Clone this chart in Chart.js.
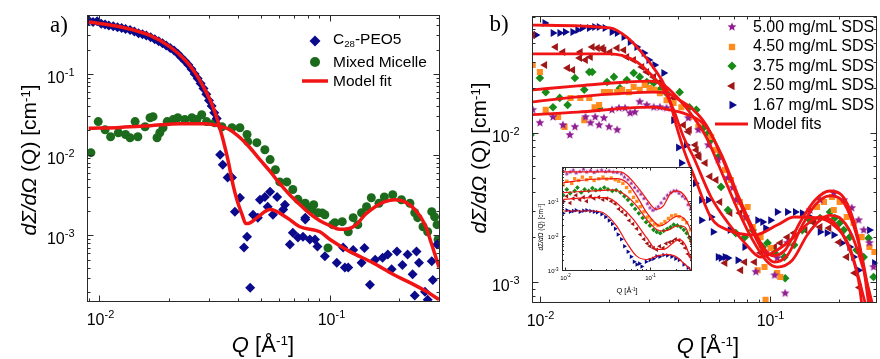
<!DOCTYPE html>
<html>
<head>
<meta charset="utf-8">
<script src="https://cdn.jsdelivr.net/npm/chart.js@4.4.1/dist/chart.umd.min.js"></script>
<style>
  html, body { margin: 0; padding: 0; background: #fff; overflow: hidden; }
  body { width: 880px; height: 359px; position: relative; font-family: "Liberation Sans", Arial, sans-serif; color: #000; }
  canvas { position: absolute; }
  .t { position: absolute; white-space: nowrap; line-height: 1; }
  .c { transform: translate(-50%, -50%); }
  .l { transform: translateY(-50%); }
  .rot { transform: translate(-50%, -50%) rotate(-90deg); }
  .serif { font-family: "Liberation Serif", "Times New Roman", serif; }
  sup { font-size: 0.62em; position: relative; top: -0.5em; vertical-align: baseline; }
  sub { font-size: 0.62em; position: relative; top: 0.3em; vertical-align: baseline; }
</style>
</head>
<body>
<canvas id="panelA" width="445" height="359" style="left:0;top:0"></canvas>
<canvas id="panelB" width="442" height="359" style="left:440px;top:0"></canvas>
<canvas id="inset" width="180" height="145" style="left:520px;top:160px"></canvas>

<div class="t c serif" style="left:59px;top:24px;font-size:23px">a)</div>
<div class="t c serif" style="left:499px;top:23px;font-size:23px">b)</div>
<div class="t rot" style="left:28px;top:160px;font-size:21px"><i>dΣ/dΩ</i> (Q) [cm<sup>-1</sup>]</div>
<div class="t rot" style="left:478px;top:158px;font-size:21px"><i>dΣ/dΩ</i> (Q) [cm<sup>-1</sup>]</div>
<div class="t c" style="left:263px;top:345px;font-size:22px"><i>Q</i> [Å<sup>-1</sup>]</div>
<div class="t c" style="left:708px;top:346px;font-size:22px"><i>Q</i> [Å<sup>-1</sup>]</div>
<div class="t rot" style="left:541px;top:227px;font-size:6.5px"><i>dΣ/dΩ</i> (Q) [cm<sup>-1</sup>]</div>
<div class="t c" style="left:627px;top:291px;font-size:7.5px">Q [Å<sup>-1</sup>]</div>
<div id="legendA"></div>
<div id="legendB"></div>

<script>
const fitColor = '#f01414';

// ---------- panel a ----------
const qRangeA = [0.00885, 0.2997];
const iRangeA = [0.0001496, 0.538];
const legendA = ['C<sub>28</sub>-PEO5', 'Mixed Micelle', 'Model fit'];

const c28PEO5 = [
  [0.0090,0.46],[0.0094,0.44],[0.0098,0.45],[0.0102,0.42],[0.0106,0.41],[0.011,0.40],[0.0115,0.39],
  [0.012,0.38],[0.0125,0.37],[0.013,0.36],[0.0136,0.35],[0.0142,0.335],[0.0148,0.32],[0.0154,0.31],
  [0.016,0.30],[0.0167,0.285],[0.0174,0.27],[0.0181,0.255],[0.0188,0.24],[0.0195,0.225],[0.0203,0.21],
  [0.0211,0.195],[0.0219,0.178],[0.0227,0.16],[0.0235,0.145],[0.0243,0.13],[0.0251,0.115],[0.0259,0.1],
  [0.0267,0.088],[0.0275,0.076],[0.0283,0.066],[0.0291,0.056],[0.0299,0.047],[0.0307,0.04],[0.0315,0.033],
  [0.0323,0.028],[0.0334,0.01],[0.0343,0.0075],[0.036,0.0052],[0.0376,0.0052],[0.0407,0.00293],
  [0.0387,0.00197],[0.0464,0.0018],[0.0437,0.00096],[0.0424,0.00071],[0.0451,0.000225],[0.0487,0.00166],
  [0.0497,0.00277],[0.0522,0.003],[0.055,0.00348],[0.0537,0.00227],[0.059,0.003],[0.0566,0.0018],
  [0.0638,0.0024],[0.0627,0.0021],[0.0781,0.00166],[0.069,0.00108],[0.0726,0.00094],[0.067,0.00077],
  [0.0764,0.00096],[0.0818,0.00089],[0.0882,0.00073],[0.095,0.00055],[0.107,0.00046],[0.116,0.0004],
  [0.114,0.00071],[0.0781,0.00157],[0.0861,0.00089],[0.12,0.0004],[0.126,0.00066],[0.141,0.0007],
  [0.137,0.00046],[0.149,0.000245],[0.157,0.0005],[0.169,0.00053],[0.178,0.00058],[0.195,0.00063],
  [0.185,0.00038],[0.206,0.00043],[0.217,0.00058],[0.237,0.00063],[0.228,0.00033],[0.233,0.00018],
  [0.258,0.0002],[0.265,0.00016],[0.243,0.00046],[0.279,0.00028],[0.276,0.00048],[0.291,0.00077]
];
const mixedMicelle = [
  [0.0092,0.0106],[0.0099,0.0257],[0.0106,0.0204],[0.0112,0.0167],[0.0121,0.0187],[0.013,0.0178],
  [0.0136,0.0162],[0.0143,0.0257],[0.0147,0.0167],[0.0158,0.0222],[0.0166,0.0287],[0.0171,0.0296],
  [0.0178,0.0162],[0.0183,0.0187],[0.0189,0.0216],[0.0197,0.0257],[0.0209,0.0272],[0.0219,0.0287],
  [0.0235,0.0272],[0.0252,0.0287],[0.0265,0.0272],[0.0278,0.0313],[0.0292,0.0257],[0.0317,0.0249],
  [0.034,0.0222],[0.0376,0.0216],[0.0407,0.0216],[0.0437,0.0178],[0.044,0.0145],[0.0482,0.0141],
  [0.0522,0.0115],[0.055,0.0087],[0.058,0.0065],[0.0606,0.0046],[0.065,0.0046],[0.069,0.0037],
  [0.0726,0.0028],[0.0781,0.0025],[0.0799,0.0022],[0.0833,0.00208],[0.085,0.0024],[0.0887,0.00191],
  [0.0925,0.0019],[0.095,0.0018],[0.098,0.0007],[0.1026,0.00136],[0.105,0.00144],[0.113,0.00148],
  [0.12,0.00111],[0.126,0.00166],[0.132,0.00136],[0.137,0.00191],[0.144,0.00227],[0.151,0.00293],
  [0.163,0.0025],[0.172,0.003],[0.187,0.00319],[0.204,0.00277],[0.222,0.0025],[0.233,0.00191],
  [0.24,0.00166],[0.253,0.00128],[0.265,0.00111],[0.276,0.00197],[0.284,0.0017],[0.291,0.00136],
  [0.294,0.00089]
];
const fitC28 = [
  [0.009,0.44],[0.0123,0.385],[0.0166,0.30],[0.0202,0.218],[0.0235,0.150],[0.026,0.104],[0.0287,0.064],
  [0.0308,0.042],[0.0327,0.0257],[0.0344,0.0153],[0.0361,0.00867],[0.038,0.00424],[0.0395,0.00277],
  [0.0416,0.00181],[0.0432,0.0014],[0.045,0.00143],[0.0483,0.00166],[0.055,0.00209],[0.0651,0.00166],
  [0.0741,0.00128],[0.0904,0.00111],[0.1,0.00089],[0.122,0.00063],[0.153,0.00046],[0.1875,0.00033],
  [0.222,0.00026],[0.263,0.0002],[0.297,0.00016]
];
const fitMixed = [
  [0.009,0.0212],[0.0123,0.0218],[0.0166,0.0229],[0.0224,0.0242],[0.0287,0.0242],[0.0327,0.0229],
  [0.0368,0.0204],[0.0408,0.0162],[0.045,0.0122],[0.0497,0.00867],[0.055,0.0062],[0.0606,0.00437],
  [0.0669,0.00319],[0.0741,0.0024],[0.0818,0.00186],[0.0904,0.00152],[0.1,0.00132],[0.11,0.00119],
  [0.12,0.00121],[0.13,0.00136],[0.142,0.00181],[0.157,0.00227],[0.173,0.00262],[0.191,0.00277],
  [0.21,0.00262],[0.233,0.0021],[0.258,0.00136],[0.276,0.00077],[0.297,0.0004]
];

// ---------- panel b ----------
const qRangeB = [0.009236, 0.295];
const iRangeB = [0.000723, 0.061];
const legendB = ['5.00 mg/mL SDS', '4.50 mg/mL SDS', '3.75 mg/mL SDS', '2.50 mg/mL SDS', '1.67 mg/mL SDS', 'Model fits'];

const sds500 = [
  [0.0093,0.0143],[0.01,0.0117],[0.0114,0.0128],[0.0126,0.0113],[0.0135,0.0097],[0.0142,0.011],
  [0.0158,0.0128],[0.0166,0.0117],[0.0174,0.0128],[0.0181,0.0113],[0.019,0.0126],[0.02,0.011],
  [0.0206,0.0143],[0.0217,0.0105],[0.0221,0.0147],[0.0235,0.0147],[0.0247,0.0136],[0.0259,0.0138],
  [0.0272,0.0162],[0.0292,0.0154],[0.0313,0.0149],[0.0333,0.0149],[0.0356,0.0147],[0.0443,0.0126],
  [0.049,0.0105],[0.0541,0.0083],[0.0597,0.0066],[0.0659,0.005],[0.0692,0.0043],[0.0713,0.00355],
  [0.0788,0.00273],[0.0871,0.00117],[0.0961,0.00157],[0.1052,0.00111],[0.108,0.00145],[0.117,0.00084],
  [0.1196,0.00183],[0.15,0.00304],[0.166,0.00355],[0.1905,0.00395],[0.2104,0.00355],[0.228,0.00314],
  [0.2443,0.0026],[0.257,0.00223],[0.2723,0.00183],[0.2838,0.00126]
];
const sds450 = [
  [0.0093,0.0286],[0.01,0.0257],[0.0106,0.0143],[0.012,0.0128],[0.0128,0.011],[0.0136,0.0172],
  [0.015,0.0172],[0.0156,0.0122],[0.0164,0.0172],[0.0173,0.0149],[0.0181,0.0154],[0.019,0.0188],
  [0.0202,0.0188],[0.0217,0.0188],[0.0228,0.0195],[0.0244,0.0188],[0.0256,0.0204],[0.0272,0.0195],
  [0.0286,0.021],[0.03,0.02],[0.0316,0.0195],[0.0333,0.0185],[0.0356,0.0166],[0.0382,0.0159],
  [0.0413,0.0149],[0.0448,0.0128],[0.049,0.011],[0.0557,0.0094],[0.0585,0.0077],[0.064,0.00565],
  [0.0679,0.00484],[0.0743,0.00344],[0.078,0.00269],[0.0803,0.00319],[0.0845,0.00234],[0.0888,0.0012],
  [0.0914,0.002],[0.0951,0.00126],[0.0961,0.00076],[0.101,0.00169],[0.108,0.00115],[0.1115,0.00108],
  [0.161,0.00319],[0.1726,0.00344],[0.187,0.00372],[0.1905,0.00304],[0.202,0.00344],[0.2169,0.00273],
  [0.2323,0.00249],[0.2518,0.002],[0.2723,0.00172],[0.2863,0.00159]
];
const sds375 = [
  [0.0091,0.0097],[0.01,0.0234],[0.0106,0.0188],[0.0114,0.0149],[0.0122,0.0172],[0.0132,0.0154],
  [0.0142,0.0234],[0.0156,0.0195],[0.0164,0.0257],[0.0169,0.0257],[0.0181,0.0147],[0.0196,0.022],
  [0.021,0.0238],[0.0223,0.02],[0.0239,0.0227],[0.0256,0.0253],[0.0272,0.0238],[0.0292,0.022],
  [0.0313,0.0217],[0.0333,0.0195],[0.0356,0.0185],[0.0406,0.0188],[0.0448,0.0149],[0.048,0.0143],
  [0.052,0.011],[0.0541,0.01],[0.0557,0.009],[0.0597,0.0069],[0.0615,0.00435],[0.0659,0.00304],
  [0.0713,0.00213],[0.078,0.002],[0.0845,0.00223],[0.0933,0.00172],[0.098,0.00183],[0.1052,0.00157],
  [0.1161,0.00147],[0.117,0.00106],[0.128,0.00177],[0.1388,0.00223],[0.15,0.0026],[0.166,0.00269],
  [0.1834,0.00295],[0.1925,0.00269],[0.202,0.00249],[0.2104,0.00223],[0.2235,0.002],[0.2393,0.00164],
  [0.257,0.00147],[0.27,0.00197],[0.2838,0.00108]
];
const sds250 = [
  [0.0093,0.0455],[0.0105,0.0286],[0.0117,0.0378],[0.0126,0.035],[0.0132,0.0273],[0.0139,0.0265],
  [0.0149,0.0319],[0.015,0.035],[0.0158,0.0309],[0.0166,0.0324],[0.0169,0.0378],[0.0178,0.0372],
  [0.0187,0.0372],[0.019,0.036],[0.0202,0.035],[0.0217,0.0372],[0.0232,0.036],[0.0239,0.0324],
  [0.0256,0.0309],[0.0278,0.0277],[0.0292,0.0257],[0.0313,0.0238],[0.0333,0.022],[0.0346,0.02],
  [0.0382,0.0172],[0.0422,0.0113],[0.0443,0.0102],[0.0448,0.0105],[0.0475,0.0083],[0.048,0.0077],
  [0.049,0.0071],[0.0494,0.0069],[0.0525,0.0063],[0.0551,0.0051],[0.0585,0.00484],[0.0608,0.00344],
  [0.064,0.00134],[0.0673,0.0029],[0.0743,0.0029],[0.075,0.0012],[0.078,0.00136],[0.0861,0.00136],
  [0.0914,0.00157],[0.1052,0.00172],[0.1115,0.00183],[0.1196,0.002],[0.128,0.00213],[0.1429,0.00223],
  [0.1563,0.00249],[0.166,0.00234],[0.1816,0.0023],[0.2006,0.00185],[0.2169,0.00147],[0.2349,0.00115],
  [0.2466,0.00092]
];
const sds167 = [
  [0.0096,0.0455],[0.0105,0.0547],[0.0114,0.0469],[0.0122,0.0469],[0.0129,0.0476],[0.0139,0.0476],
  [0.0146,0.0491],[0.0153,0.0507],[0.0164,0.0507],[0.0173,0.0514],[0.0181,0.0514],[0.0192,0.0507],
  [0.0206,0.0476],[0.0217,0.0469],[0.0232,0.0441],[0.0247,0.0408],[0.0264,0.0378],[0.0284,0.0344],
  [0.0298,0.0309],[0.0316,0.0286],[0.0346,0.0253],[0.0382,0.0122],[0.0401,0.008],[0.0413,0.0063],
  [0.0434,0.0083],[0.0443,0.0054],[0.0475,0.0046],[0.0505,0.00355],[0.0505,0.0026],[0.0541,0.00355],
  [0.0557,0.00273],[0.0568,0.00217],[0.0597,0.00147],[0.0615,0.00145],[0.064,0.00147],[0.0659,0.00145],
  [0.0673,0.00223],[0.0728,0.0014],[0.078,0.00172],[0.0888,0.0026],[0.0933,0.00253],[0.0961,0.0023],
  [0.101,0.0026],[0.108,0.00295],[0.1196,0.00295],[0.1295,0.00295],[0.1388,0.0029],[0.15,0.00273],
  [0.166,0.00217],[0.178,0.00213],[0.1905,0.00207],[0.2065,0.00183],[0.2235,0.00172],[0.2323,0.00147],
  [0.2443,0.0012],[0.2723,0.00223],[0.2863,0.00134]
];
const fit500 = [
  [0.0093,0.0133],[0.0146,0.0138],[0.0239,0.0147],[0.0313,0.0149],[0.0367,0.0143],[0.0422,0.0136],
  [0.053,0.011],[0.0627,0.0068],[0.0728,0.00384],[0.0845,0.0023],[0.096,0.00164],[0.103,0.0015],
  [0.117,0.00164],[0.136,0.00253],[0.158,0.00355],[0.183,0.00408],[0.206,0.00384],[0.232,0.0026],
  [0.254,0.0014],[0.27,0.00072]
];
const fit450 = [
  [0.0093,0.0162],[0.0146,0.0175],[0.0239,0.0185],[0.0313,0.0188],[0.0356,0.0185],[0.0406,0.0166],
  [0.0466,0.0143],[0.053,0.0113],[0.0627,0.0066],[0.0728,0.00366],[0.0845,0.00217],[0.096,0.00152],
  [0.105,0.00136],[0.12,0.00152],[0.139,0.00241],[0.158,0.00329],[0.183,0.00378],[0.206,0.00355],
  [0.232,0.00241],[0.257,0.0013],[0.275,0.00072]
];
const fit375 = [
  [0.0093,0.0195],[0.0146,0.0207],[0.0239,0.022],[0.03,0.0223],[0.0346,0.021],[0.0394,0.0175],
  [0.0466,0.0128],[0.053,0.0094],[0.0627,0.0052],[0.0728,0.00304],[0.0845,0.00191],[0.098,0.00136],
  [0.108,0.00126],[0.1256,0.0014],[0.146,0.00207],[0.166,0.0026],[0.183,0.0028],[0.202,0.0027],
  [0.228,0.00207],[0.257,0.0012],[0.28,0.00072]
];
const fit250 = [
  [0.0093,0.034],[0.0202,0.034],[0.0256,0.0309],[0.03,0.0253],[0.0346,0.0195],[0.0382,0.0143],
  [0.0422,0.0094],[0.0466,0.0069],[0.0557,0.0037],[0.066,0.00249],[0.078,0.00183],[0.0914,0.00147],
  [0.108,0.00164],[0.128,0.002],[0.15,0.00253],[0.166,0.00273],[0.19,0.00253],[0.217,0.00183],
  [0.244,0.00103],[0.252,0.00072]
];
const fit167 = [
  [0.0093,0.053],[0.0202,0.0507],[0.0239,0.044],[0.0272,0.036],[0.0313,0.0273],[0.0356,0.0195],
  [0.0394,0.011],[0.0426,0.0075],[0.0475,0.0049],[0.0557,0.0027],[0.066,0.00223],[0.0861,0.00207],
  [0.108,0.00241],[0.128,0.00273],[0.161,0.00269],[0.19,0.00241],[0.223,0.00172],[0.257,0.00079],
  [0.278,0.00048]
];

// ---------- inset of panel b ----------
const qRangeIn = [0.00922, 0.312];
const iRangeIn = [0.000967, 0.98];
const in500 = [
  [0.0095,0.75],[0.0105,0.62],[0.0115,0.7],[0.0125,0.8],[0.0135,0.66],[0.015,0.72],[0.0165,0.85],
  [0.018,0.7],[0.02,0.78],[0.022,0.68],[0.024,0.75],[0.027,0.8],[0.03,0.72],[0.033,0.76],[0.037,0.7],
  [0.041,0.68],[0.046,0.62],[0.05,0.5],[0.055,0.42],[0.06,0.33],[0.066,0.25],[0.072,0.2],[0.078,0.16],
  [0.085,0.12],[0.093,0.085],[0.1,0.065],[0.108,0.055],[0.116,0.06],[0.125,0.07],[0.135,0.09],
  [0.147,0.12],[0.16,0.15],[0.175,0.18],[0.19,0.2],[0.205,0.2],[0.22,0.17],[0.24,0.14],[0.26,0.12],
  [0.28,0.08],[0.3,0.06]
];
const in450 = [
  [0.0095,0.3],[0.0105,0.38],[0.012,0.33],[0.013,0.45],[0.0145,0.4],[0.016,0.5],[0.018,0.42],[0.02,0.48],
  [0.022,0.4],[0.025,0.45],[0.028,0.5],[0.031,0.44],[0.035,0.47],[0.039,0.42],[0.043,0.38],[0.048,0.33],
  [0.053,0.25],[0.058,0.19],[0.064,0.13],[0.07,0.1],[0.077,0.07],[0.085,0.05],[0.094,0.035],[0.103,0.028],
  [0.113,0.022],[0.124,0.02],[0.136,0.022],[0.15,0.026],[0.165,0.032],[0.18,0.038],[0.2,0.04],
  [0.22,0.036],[0.245,0.03],[0.27,0.024],[0.3,0.015]
];
const in375 = [
  [0.0095,0.15],[0.0105,0.22],[0.0115,0.17],[0.013,0.2],[0.014,0.25],[0.0155,0.18],[0.017,0.22],
  [0.019,0.2],[0.021,0.24],[0.023,0.21],[0.026,0.22],[0.029,0.25],[0.032,0.22],[0.036,0.2],[0.04,0.21],
  [0.045,0.18],[0.05,0.14],[0.055,0.11],[0.061,0.08],[0.067,0.06],[0.074,0.045],[0.082,0.033],
  [0.09,0.025],[0.1,0.02],[0.11,0.015],[0.12,0.013],[0.132,0.012],[0.145,0.014],[0.16,0.016],
  [0.175,0.018],[0.19,0.021],[0.21,0.02],[0.23,0.018],[0.25,0.015],[0.27,0.012],[0.29,0.009],[0.305,0.007]
];
const in250 = [
  [0.0095,0.1],[0.0105,0.14],[0.0115,0.09],[0.0125,0.12],[0.0135,0.15],[0.015,0.11],[0.0165,0.13],
  [0.018,0.1],[0.02,0.14],[0.022,0.12],[0.025,0.13],[0.028,0.11],[0.031,0.12],[0.035,0.1],[0.039,0.085],
  [0.043,0.06],[0.047,0.05],[0.052,0.04],[0.057,0.028],[0.063,0.022],[0.07,0.016],[0.077,0.011],
  [0.085,0.008],[0.093,0.006],[0.1,0.005],[0.11,0.0045],[0.12,0.004],[0.13,0.005],[0.143,0.0045],
  [0.155,0.006],[0.17,0.0065],[0.185,0.007],[0.2,0.008],[0.22,0.0075],[0.24,0.006],[0.26,0.0045],
  [0.28,0.003],[0.3,0.0025]
];
const in167 = [
  [0.0095,0.045],[0.0105,0.055],[0.0115,0.05],[0.0125,0.052],[0.0135,0.055],[0.015,0.05],[0.0165,0.053],
  [0.018,0.055],[0.02,0.052],[0.022,0.05],[0.024,0.048],[0.027,0.042],[0.03,0.035],[0.033,0.028],
  [0.036,0.022],[0.039,0.016],[0.042,0.011],[0.046,0.008],[0.05,0.005],[0.055,0.0035],[0.06,0.0025],
  [0.065,0.0018],[0.07,0.0015],[0.075,0.0016],[0.08,0.0013],[0.09,0.0018],[0.1,0.002],[0.11,0.0022],
  [0.12,0.0026],[0.13,0.0025],[0.145,0.0028],[0.16,0.0027],[0.18,0.0025],[0.2,0.0022],[0.22,0.002],
  [0.25,0.0015],[0.28,0.0012],[0.3,0.001]
];
const inFit500 = [[0.00955,0.706],[0.0215,0.706],[0.0444,0.706],[0.0532,0.567],[0.0697,0.278],[0.0914,0.114],[0.1094,0.0655],[0.1197,0.0586],[0.1436,0.0733],[0.1718,0.16],[0.206,0.199],[0.2467,0.16],[0.2955,0.0733],[0.312,0.05]];
const inFit450 = [[0.00955,0.348],[0.0215,0.434],[0.0406,0.455],[0.0532,0.348],[0.0697,0.143],[0.0914,0.0469],[0.1146,0.0241],[0.1312,0.0193],[0.157,0.0241],[0.188,0.0336],[0.2155,0.0376],[0.258,0.0301],[0.309,0.0138]];
const inFit375 = [[0.00955,0.179],[0.0215,0.199],[0.0371,0.213],[0.0532,0.143],[0.0697,0.0733],[0.0914,0.0301],[0.1197,0.0154],[0.1436,0.0138],[0.1718,0.0154],[0.206,0.0193],[0.236,0.0193],[0.27,0.0154],[0.312,0.005]];
const inFit250 = [[0.00955,0.114],[0.0215,0.128],[0.0309,0.128],[0.0444,0.0733],[0.0637,0.0301],[0.0914,0.00885],[0.1197,0.00406],[0.1436,0.00406],[0.188,0.00634],[0.2155,0.0079],[0.258,0.0057],[0.312,0.0017]];
const inFit167 = [[0.00955,0.0525],[0.0215,0.0525],[0.0282,0.0469],[0.0406,0.0193],[0.0532,0.00634],[0.0697,0.0026],[0.0914,0.00208],[0.1197,0.0026],[0.157,0.00291],[0.1968,0.0026],[0.2467,0.00167],[0.312,0.00096]];

// ---------- colours ----------
const navy = '#0a0a8b';
const darkGreen = '#1c6b1c';
const purple = '#921f92';
const orange = '#ff8c1f';
const green = '#178a17';
const brown = '#a11616';

function starImg(color, r) {
  const c = document.createElement('canvas');
  const s = Math.ceil(r * 2) + 2;
  c.width = c.height = s;
  const g = c.getContext('2d');
  g.fillStyle = color;
  g.beginPath();
  for (let i = 0; i < 10; i++) {
    const rr = i % 2 ? r * 0.45 : r;
    const ang = -Math.PI / 2 + i * Math.PI / 5;
    g.lineTo(s / 2 + rr * Math.cos(ang), s / 2 + rr * Math.sin(ang));
  }
  g.closePath();
  g.fill();
  return c;
}
const starBig = starImg(purple, 4.6);
const starSmall = starImg(purple, 2.4);

const xy = d => d.map(p => ({ x: p[0], y: p[1] }));

function dots(data, color, style, r, rot) {
  return { type: 'scatter', data: xy(data), backgroundColor: color, borderWidth: 0, pointStyle: style,
    pointRadius: r, pointHoverRadius: r, rotation: rot || 0, showLine: false, order: 2 };
}
function fit(data, w) {
  return { type: 'line', data: xy(data), borderColor: fitColor, borderWidth: w, pointRadius: 0,
    fill: false, showLine: true, cubicInterpolationMode: 'monotone', order: 1 };
}

function logScales(qr, ir, yWidth, xHeight) {
  const hide = { ticks: { display: false }, grid: { display: false }, border: { display: false } };
  return {
    x: { type: 'logarithmic', min: qr[0], max: qr[1], ...hide, afterFit: s => { s.height = xHeight; } },
    y: { type: 'logarithmic', min: ir[0], max: ir[1], ...hide, afterFit: s => { s.width = yWidth; } }
  };
}

function drawMarker(ctx, m) {
  ctx.save();
  ctx.fillStyle = m.color;
  ctx.strokeStyle = m.color;
  ctx.beginPath();
  if (m.style === 'line') {
    ctx.lineWidth = m.w;
    ctx.moveTo(m.x, m.y);
    ctx.lineTo(m.x2, m.y);
    ctx.stroke();
    ctx.restore();
    return;
  }
  if (m.style instanceof HTMLCanvasElement) {
    ctx.drawImage(m.style, m.x - m.style.width / 2, m.y - m.style.height / 2);
    ctx.restore();
    return;
  }
  const r = m.r;
  if (m.style === 'circle') ctx.arc(m.x, m.y, r, 0, Math.PI * 2);
  else if (m.style === 'rectRot') { ctx.moveTo(m.x, m.y - r); ctx.lineTo(m.x + r, m.y); ctx.lineTo(m.x, m.y + r); ctx.lineTo(m.x - r, m.y); }
  else if (m.style === 'rect') { const h = r * Math.SQRT1_2; ctx.rect(m.x - h, m.y - h, 2 * h, 2 * h); }
  else if (m.style === 'triangle') {
    let a = (m.rot || 0) * Math.PI / 180;
    for (let i = 0; i < 3; i++) { ctx.lineTo(m.x + Math.sin(a) * r, m.y - Math.cos(a) * r); a += Math.PI * 2 / 3; }
  }
  ctx.closePath();
  ctx.fill();
  ctx.restore();
}

function expLabel(ctx, x, y, d, o, align) {
  const fam = '"Liberation Sans", Arial, sans-serif';
  const base = '10', exp = String(d);
  ctx.font = o.size + 'px ' + fam;
  const w1 = ctx.measureText(base).width;
  ctx.font = o.expSize + 'px ' + fam;
  const w2 = ctx.measureText(exp).width;
  const x0 = align === 'center' ? x - (w1 + w2) / 2 : x - w1 - w2;
  ctx.textAlign = 'left';
  ctx.textBaseline = 'alphabetic';
  ctx.font = o.size + 'px ' + fam;
  ctx.fillText(base, x0, y);
  ctx.font = o.expSize + 'px ' + fam;
  ctx.fillText(exp, x0 + w1, y - o.rise);
}

const framePlugin = {
  id: 'frame',
  beforeDraw(chart, args, o) {
    if (!o.fill) return;
    const a = chart.chartArea, ctx = chart.ctx;
    ctx.save();
    ctx.fillStyle = o.fill;
    ctx.fillRect(a.left, a.top, a.right - a.left, a.bottom - a.top);
    ctx.restore();
  },
  afterDraw(chart, args, o) {
    const ctx = chart.ctx, a = chart.chartArea, xs = chart.scales.x, ys = chart.scales.y;
    const each = (scale, fn) => {
      for (let d = Math.floor(Math.log10(scale.min)); d <= Math.ceil(Math.log10(scale.max)); d++) {
        for (let k = 1; k < 10; k++) {
          const v = k * Math.pow(10, d);
          if (v < scale.min * 0.999 || v > scale.max * 1.001) continue;
          fn(Math.round(scale.getPixelForValue(v)) + 0.5, k === 1, d);
        }
      }
    };
    ctx.save();
    ctx.strokeStyle = '#2a2a2a';
    ctx.lineWidth = 1;
    const L = Math.round(a.left) + 0.5, T = Math.round(a.top) + 0.5;
    const R = Math.round(a.right) - 0.5, B = Math.round(a.bottom) - 0.5;
    ctx.strokeRect(L, T, R - L, B - T);
    ctx.beginPath();
    each(xs, (px, major) => {
      const len = major ? o.major : o.minor;
      ctx.moveTo(px, B); ctx.lineTo(px, B - len);
      ctx.moveTo(px, T); ctx.lineTo(px, T + len);
    });
    each(ys, (py, major) => {
      const len = major ? o.major : o.minor;
      ctx.moveTo(L, py); ctx.lineTo(L + len, py);
      ctx.moveTo(R, py); ctx.lineTo(R - len, py);
    });
    ctx.stroke();
    ctx.fillStyle = '#000';
    each(xs, (px, major, d) => { if (major) expLabel(ctx, px + o.xShift, B + o.xBase, d, o, 'center'); });
    each(ys, (py, major, d) => { if (major) expLabel(ctx, L - o.yGap, py + o.yBase, d, o, 'right'); });
    (o.legend || []).forEach(m => drawMarker(ctx, m));
    ctx.restore();
  }
};

function makeChart(id, datasets, scales, padding, frame) {
  return new Chart(document.getElementById(id), {
    type: 'scatter',
    data: { datasets },
    options: {
      responsive: false,
      animation: false,
      devicePixelRatio: 1,
      layout: { padding },
      scales,
      plugins: { legend: { display: false }, tooltip: { enabled: false }, frame }
    },
    plugins: [framePlugin]
  });
}

const mainTicks = { major: 6, minor: 3, size: 16, expSize: 11, rise: 7, xBase: 23, xShift: 1, yGap: 13, yBase: 8 };

makeChart('panelA', [
  fit(fitC28, 3.5),
  fit(fitMixed, 3.5),
  dots(c28PEO5, navy, 'rectRot', 5),
  dots(mixedMicelle, darkGreen, 'circle', 4.5)
], logScales(qRangeA, iRangeA, 87, 57), { left: 0, right: 5, top: 15, bottom: 0 }, {
  ...mainTicks,
  legend: [
    { style: 'rectRot', color: navy, x: 315, y: 41, r: 5.5 },
    { style: 'circle', color: darkGreen, x: 315, y: 62, r: 5 },
    { style: 'line', color: fitColor, x: 302, x2: 328, y: 81, w: 3.5 }
  ]
});

makeChart('panelB', [
  fit(fit500, 2.8), fit(fit450, 2.8), fit(fit375, 2.8), fit(fit250, 2.8), fit(fit167, 2.8),
  dots(sds500, purple, starBig, 4.5),
  dots(sds450, orange, 'rect', 4.3),
  dots(sds375, green, 'rectRot', 4.3),
  dots(sds250, brown, 'triangle', 4.6, -90),
  dots(sds167, navy, 'triangle', 4.6, 90)
], logScales(qRangeB, iRangeB, 92, 56), { left: 0, right: 1, top: 16, bottom: 0 }, {
  ...mainTicks,
  xShift: 0,
  legend: [
    { style: starBig, color: purple, x: 292, y: 27 },
    { style: 'rect', color: orange, x: 292, y: 47, r: 4.5 },
    { style: 'rectRot', color: green, x: 292, y: 66, r: 4.6 },
    { style: 'triangle', rot: -90, color: brown, x: 292, y: 86, r: 5 },
    { style: 'triangle', rot: 90, color: navy, x: 292, y: 105, r: 5 },
    { style: 'line', color: fitColor, x: 275, x2: 308, y: 124, w: 3 }
  ]
});

makeChart('inset', [
  fit(inFit500, 1.2), fit(inFit450, 1.2), fit(inFit375, 1.2), fit(inFit250, 1.2), fit(inFit167, 1.2),
  dots(in500, purple, starSmall, 2.4),
  dots(in450, orange, 'rect', 2.4),
  dots(in375, green, 'rectRot', 2.4),
  dots(in250, brown, 'triangle', 2.6, -90),
  dots(in167, navy, 'triangle', 2.6, 90)
], logScales(qRangeIn, iRangeIn, 42, 34), { left: 0, right: 8, top: 7, bottom: 0 }, {
  major: 3, minor: 1.5, size: 6, expSize: 4.5, rise: 2.5, xBase: 9, xShift: 0, yGap: 4, yBase: 2.5, fill: '#fff'
});

// legend texts
const legA = document.getElementById('legendA');
const rowsA = [39, 62, 81];
legendA.forEach((txt, i) => {
  legA.insertAdjacentHTML('beforeend', `<div class="t l" style="left:333px;top:${rowsA[i]}px;font-size:15.5px">${txt}</div>`);
});
const legB = document.getElementById('legendB');
legendB.forEach((txt, i) => {
  legB.insertAdjacentHTML('beforeend', `<div class="t l" style="left:753px;top:${27 + i * 19.4}px;font-size:16px">${txt}</div>`);
});
</script>
</body>
</html>
